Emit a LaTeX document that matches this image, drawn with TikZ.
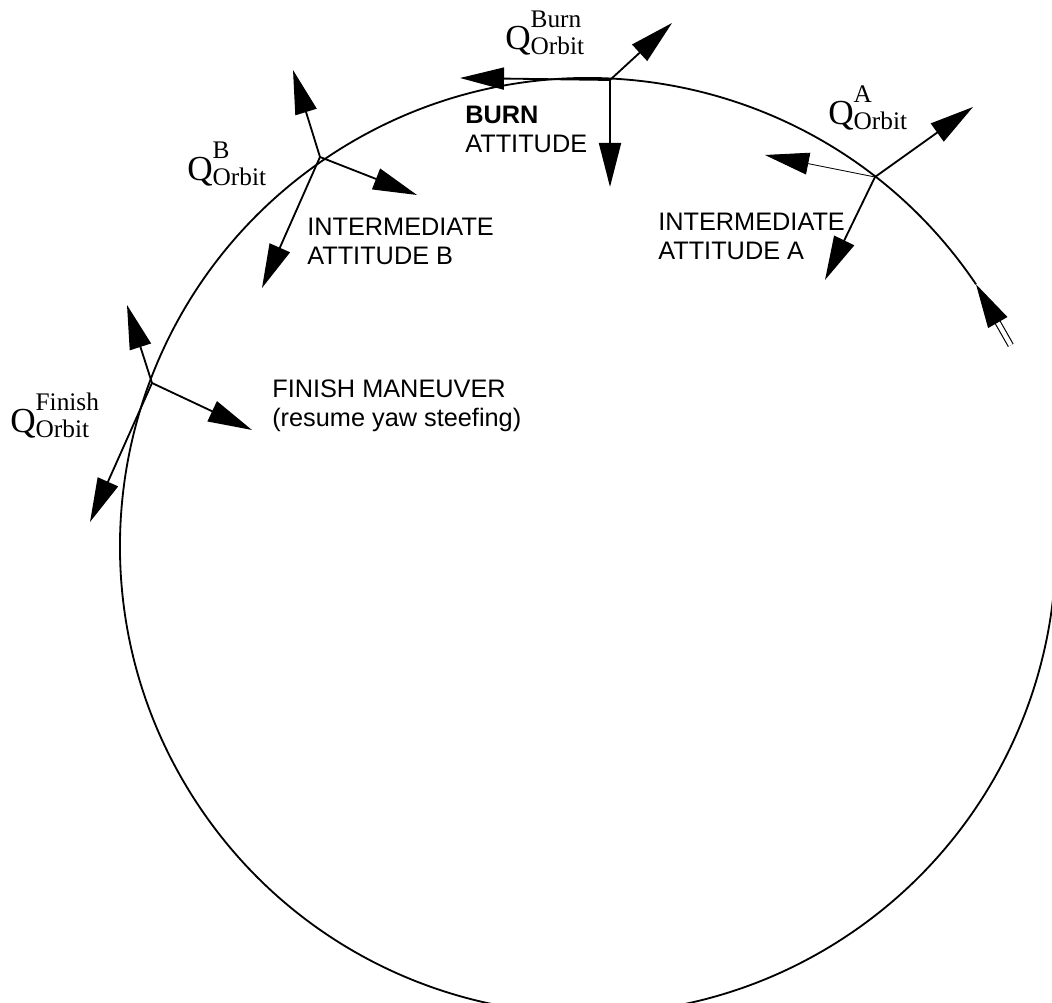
\documentclass[tikz,border=0pt]{standalone}
\usepackage{fontspec}
\setmainfont{Liberation Sans}
\newfontfamily\qfont{Liberation Serif}
\usetikzlibrary{arrows.meta}
\newcommand{\qorbit}[1]{{\qfont\fontsize{25}{25}\selectfont Q\fontsize{18}{18}\selectfont\rlap{\raisebox{16pt}{#1}}\raisebox{-3pt}{Orbit}}}

\begin{document}
\begin{tikzpicture}[x=0.025cm, y=0.025cm,
		axis/.style={line width=1.3pt, -{Triangle[length=1.1cm, width=0.55cm]}},
		tag/.style={anchor=base west, inner sep=0pt, align=left, font=\fontsize{18}{21}\selectfont},
		qtag/.style={anchor=base west, inner sep=0pt}]
		\useasboundingbox (0,-1003) rectangle (1052,0);
		\clip (0,-1003) rectangle (1052,0);
		\coordinate (orbit) at (588,-546);
		\path (orbit) ++(34:468) coordinate(dirtip) (orbit) ++(25.4:468) coordinate(dirtail);
		\draw[line width=1.3pt] (dirtip) arc[start angle=34, end angle=360, radius=468];
		\draw[axis, line width=0.8pt, double, double distance=3pt] (dirtail) -- (dirtip);
		\coordinate (burn) at (610,-80);
		\coordinate (burn-x) at (460,-78); \coordinate (burn-y) at (672,-23); \coordinate (burn-z) at (610,-187);
		\draw[axis] (burn) -- (burn-x);
		\draw[axis] (burn) -- (burn-y);
		\draw[axis] (burn) -- (burn-z);
		\coordinate (attA) at (875,-177);
		\coordinate (attA-x) at (765,-155); \coordinate (attA-y) at (973,-107); \coordinate (attA-z) at (825,-280);
		\draw[axis, line width=0.6pt] (attA) -- (attA-x);
		\draw[axis] (attA) -- (attA-y);
		\draw[axis] (attA) -- (attA-z);
		\coordinate (attB) at (320,-157);
		\coordinate (attB-x) at (293,-70); \coordinate (attB-y) at (417,-195); \coordinate (attB-z) at (262,-288);
		\draw[axis] (attB) -- (attB-x);
		\draw[axis] (attB) -- (attB-y);
		\draw[axis] (attB) -- (attB-z);
		\coordinate (finish) at (152,-383);
		\coordinate (finish-x) at (127,-305); \coordinate (finish-y) at (252,-430); \coordinate (finish-z) at (90,-522);
		\draw[axis] (finish) -- (finish-x);
		\draw[axis] (finish) -- (finish-y);
		\draw[axis] (finish) -- (finish-z);
		\node[qtag] (qburn) at (505,-50) {\qorbit{Burn}};
		\node[qtag] (qA) at (828,-125) {\qorbit{A}};
		\node[qtag] (qB) at (187,-181) {\qorbit{B}};
		\node[qtag] (qfinish) at (10,-433) {\qorbit{Finish}};
		\node[tag] (burntext) at (465,-153) {\textbf{BURN}\\ATTITUDE};
		\node[tag] (textA) at (658,-260) {INTERMEDIATE\\ATTITUDE A};
		\node[tag] (textB) at (307,-265) {INTERMEDIATE\\ATTITUDE B};
		\node[tag] (finishtext) at (272,-427) {FINISH MANEUVER\\(resume yaw steefing)};
	\end{tikzpicture}
\end{document}
